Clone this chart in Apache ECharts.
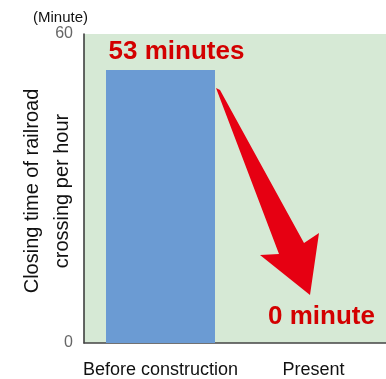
<!DOCTYPE html>
<html>
<head>
<meta charset="utf-8">
<script src="https://cdn.jsdelivr.net/npm/echarts@6/dist/echarts.min.js"></script>
<style>
html,body{margin:0;padding:0;background:#fff;}
#c{width:386px;height:379px;}
</style>
</head>
<body>
<div id="c"></div>
<script>
const categories = ["Before construction", "Present"];
const values = [53, 0];
const labelTexts = ["53 minutes", "0 minute"];
const yTicks = [0, 60];
const yTitle = "Closing time of railroad\ncrossing per hour";
const unitLabel = "(Minute)";

const FONT = '"Liberation Sans", Arial, sans-serif';
const chart = echarts.init(document.getElementById('c'), null, {renderer: 'canvas'});

const labelOffsets = [[16, 0], [8, -8]];

chart.setOption({
  animation: false,
  backgroundColor: '#ffffff',
  title: {
    text: unitLabel,
    left: 28, top: 5,
    textStyle: {fontFamily: FONT, fontSize: 15, fontWeight: 'normal', color: '#111'}
  },
  grid: {
    left: 84, top: 34, width: 306, bottom: 36,
    containLabel: false,
    outerBoundsMode: 'none',
    show: true, backgroundColor: '#d6e9d5', borderWidth: 0
  },
  xAxis: {
    type: 'category',
    data: categories,
    axisLine: {show: true, lineStyle: {color: '#444', width: 1.5}},
    axisTick: {show: false},
    axisLabel: {fontFamily: FONT, fontSize: 18, color: '#111', margin: 18, interval: 0, hideOverlap: false}
  },
  yAxis: {
    type: 'value',
    min: yTicks[0], max: yTicks[yTicks.length - 1], interval: 60,
    splitLine: {show: false},
    axisLine: {show: true, lineStyle: {color: '#333', width: 1.5}},
    axisTick: {show: false},
    axisLabel: {fontFamily: FONT, fontSize: 16, color: '#666', margin: 11}
  },
  series: [{
    type: 'bar',
    barWidth: 109,
    itemStyle: {color: '#6b9bd3'},
    data: values.map((v, i) => ({
      value: v,
      label: {
        show: true,
        position: 'top',
        distance: 5,
        offset: labelOffsets[i],
        formatter: labelTexts[i],
        fontFamily: FONT, fontSize: 26, fontWeight: 'bold', color: '#d30000'
      }
    }))
  }],
  graphic: [{
    type: 'text',
    x: 47, y: 191,
    rotation: Math.PI / 2,
    style: {
      text: yTitle,
      fontFamily: FONT, fontSize: 20, lineHeight: 30, fill: '#111',
      align: 'center', verticalAlign: 'middle'
    }
  }, {
    type: 'polygon',
    z: 100,
    shape: {
      points: [[216, 88], [220, 90], [304, 243], [319, 233], [310, 295], [260, 255], [279, 254]]
    },
    style: {fill: '#e60012'}
  }]
});
</script>
</body>
</html>
